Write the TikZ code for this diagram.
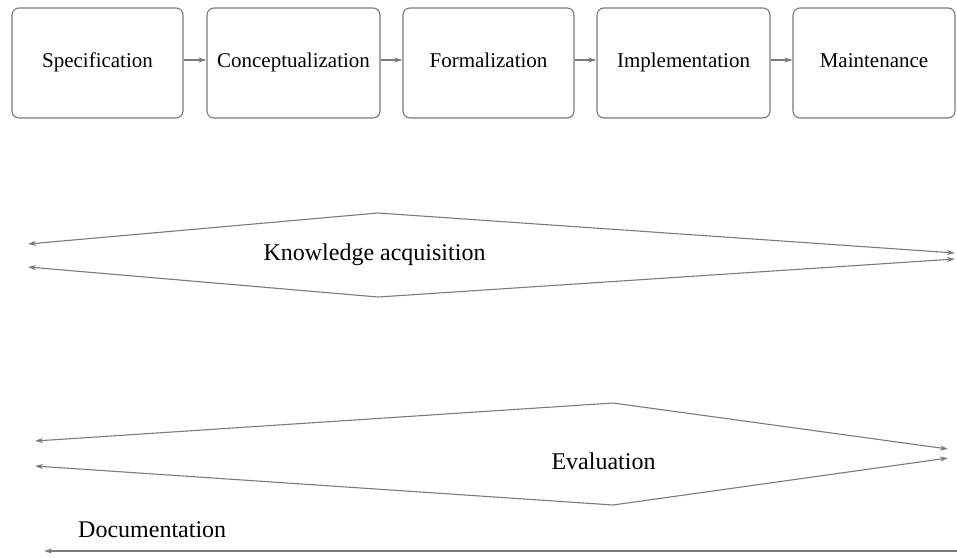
\documentclass[tikz,border=0pt]{standalone}
\usepackage{fontspec}
\setmainfont{Liberation Serif}
\usetikzlibrary{arrows.meta}
\definecolor{linegray}{HTML}{7A7A7A}
\begin{document}
\begin{tikzpicture}[x=1pt,y=-1pt,
  phase/.style={draw=linegray, line width=1.1pt, rounded corners=7pt, minimum height=110pt, inner sep=0pt,
    text height=14pt, text depth=4.5pt, font=\fontsize{21}{24}\selectfont},
  flow/.style={draw=linegray, line width=1.1pt, -{Stealth[length=8pt,width=5pt,inset=2.5pt]}},
  lbl/.style={font=\fontsize{24}{28}\selectfont, inner sep=0pt}]
\useasboundingbox (0,0) rectangle (957,557);
% phase boxes
\node[phase, minimum width=171pt] (spec) at (97.5,63) {Specification};
\node[phase, minimum width=173pt] (conc) at (293.5,63) {Conceptualization};
\node[phase, minimum width=171pt] (form) at (488.5,63) {Formalization};
\node[phase, minimum width=173pt] (impl) at (683.5,63) {Implementation};
\node[phase, minimum width=162pt] (main) at (874,63) {Maintenance};
\draw[flow] (spec.east |- 0,60) -- (conc.west |- 0,60);
\draw[flow] (conc.east |- 0,60) -- (form.west |- 0,60);
\draw[flow] (form.east |- 0,60) -- (impl.west |- 0,60);
\draw[flow] (impl.east |- 0,60) -- (main.west |- 0,60);
% knowledge acquisition
\coordinate (kaT) at (378,213);
\coordinate (kaB) at (378,297);
\coordinate (kaL1) at (28,244);
\coordinate (kaL2) at (28,267);
\coordinate (kaR1) at (955,253);
\coordinate (kaR2) at (955,259);
\draw[flow] (kaT) -- (kaL1);
\draw[flow] (kaT) -- (kaR1);
\draw[flow] (kaB) -- (kaL2);
\draw[flow] (kaB) -- (kaR2);
\node[lbl] (ka) at (374.5,255) {Knowledge acquisition};
% evaluation
\coordinate (evT) at (613,403);
\coordinate (evB) at (613,505);
\coordinate (evL1) at (35,441);
\coordinate (evL2) at (35,466);
\coordinate (evR1) at (948,449);
\coordinate (evR2) at (948,458);
\draw[flow] (evT) -- (evL1);
\draw[flow] (evT) -- (evR1);
\draw[flow] (evB) -- (evL2);
\draw[flow] (evB) -- (evR2);
\node[lbl] (ev) at (603.5,461) {Evaluation};
% documentation
\coordinate (docR) at (957,551);
\coordinate (docL) at (44,551);
\draw[flow, line width=1.4pt] (docR) -- (docL);
\node[lbl, anchor=west] (doc) at (78,530) {Documentation};
\end{tikzpicture}
\end{document}
